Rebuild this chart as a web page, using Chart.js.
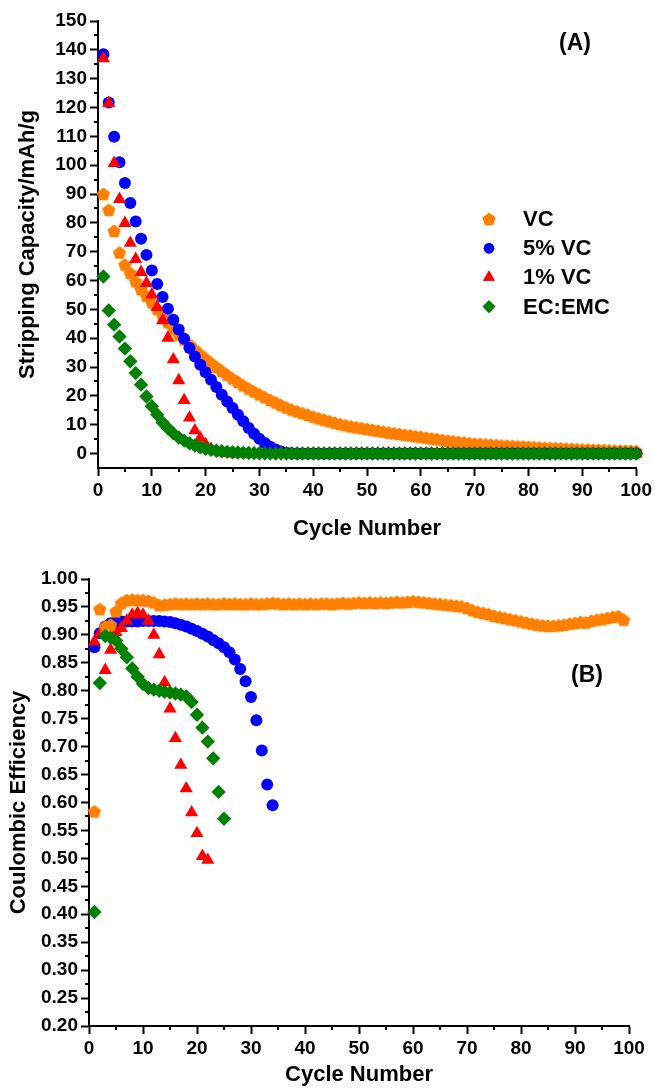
<!DOCTYPE html>
<html>
<head>
<meta charset="utf-8">
<script src="https://cdn.jsdelivr.net/npm/chart.js"></script>
<style>
  body { margin: 0; background: #fff; }
  .wrap { position: absolute; left: 0; width: 655px; }
</style>
</head>
<body>
<div class="wrap" style="top:0;height:545px"><canvas id="capChart" width="655" height="545"></canvas></div>
<div class="wrap" style="top:545px;height:543px"><canvas id="ceChart" width="655" height="543"></canvas></div>
<script>
// series names
const seriesNames = ['VC', '5% VC', '1% VC', 'EC:EMC']

// (A) stripping capacity, mAh/g, cycle 1..100
const capVC = [
  90, 84.5, 77.2, 69.7, 65.5, 62.6, 59.7, 57, 54.7, 52.4,
  50.1, 47.8, 45.5, 43.3, 41.2, 39.5, 37.8, 36.1, 34.5, 32.9,
  31.4, 30, 28.6, 27.3, 26, 24.8, 23.6, 22.5, 21.5, 20.5,
  19.5, 18.6, 17.7, 16.8, 16, 15.2, 14.6, 14, 13.4, 12.8,
  12.2, 11.7, 11.2, 10.7, 10.2, 9.8, 9.4, 9.1, 8.8, 8.5,
  8.2, 7.9, 7.6, 7.3, 7, 6.8, 6.5, 6.3, 6, 5.8,
  5.5, 5.2, 5, 4.7, 4.4, 4.2, 4, 3.8, 3.6, 3.4,
  3.3, 3.2, 3, 2.9, 2.8, 2.7, 2.6, 2.5, 2.4, 2.3,
  2.2, 2.1, 2, 1.9, 1.85, 1.8, 1.7, 1.6, 1.5, 1.45,
  1.4, 1.3, 1.25, 1.2, 1.1, 1.05, 1, 0.95, 0.9, 0.85
]
const cap5VC = [
  138.5, 121.7, 109.9, 101, 93.8, 86.9, 80.5, 74.5, 68.9, 63.5,
  58.8, 54.3, 50.2, 46.4, 43, 39.8, 36.6, 33.7, 30.8, 28.2,
  25.6, 23.1, 20.4, 18.1, 15.8, 13.5, 11.2, 8.9, 6.9, 5.1,
  3.7, 2.4, 1.4, 0.7, 0.3, 0.1, 0, 0, 0, 0,
  0, 0, 0, 0, 0, 0, 0, 0, 0, 0,
  0, 0, 0, 0, 0, 0, 0, 0, 0, 0,
  0, 0, 0, 0, 0, 0, 0, 0, 0, 0,
  0, 0, 0, 0, 0, 0, 0, 0, 0, 0,
  0, 0, 0, 0, 0, 0, 0, 0, 0, 0,
  0, 0, 0, 0, 0, 0, 0, 0, 0, 0
]
const cap1VC = [
  137, 121.5, 100.7, 88.2, 79.9, 73, 67.4, 62.9, 59.1, 55.1,
  50.8, 46.2, 40.1, 32.6, 25.4, 18.5, 12.4, 8, 5.4, 3.2,
  1.6, 0.7, 0.3, 0.1, 0, 0, 0, 0, 0, 0,
  0, 0, 0, 0, 0, 0, 0, 0, 0, 0,
  0, 0, 0, 0, 0, 0, 0, 0, 0, 0,
  0, 0, 0, 0, 0, 0, 0, 0, 0, 0,
  0, 0, 0, 0, 0, 0, 0, 0, 0, 0,
  0, 0, 0, 0, 0, 0, 0, 0, 0, 0,
  0, 0, 0, 0, 0, 0, 0, 0, 0, 0,
  0, 0, 0, 0, 0, 0, 0, 0, 0, 0
]
const capEC = [
  61.4, 49.6, 44.7, 40.6, 36.4, 32, 27.9, 23.9, 19.8, 16.4,
  13.5, 10.8, 8.8, 7, 5.6, 4.5, 3.6, 2.8, 2.2, 1.7,
  1.3, 1, 0.8, 0.6, 0.45, 0.35, 0.25, 0.2, 0.15, 0.1,
  0.05, 0, 0, 0, 0, 0, 0, 0, 0, 0,
  0, 0, 0, 0, 0, 0, 0, 0, 0, 0,
  0, 0, 0, 0, 0, 0, 0, 0, 0, 0,
  0, 0, 0, 0, 0, 0, 0, 0, 0, 0,
  0, 0, 0, 0, 0, 0, 0, 0, 0, 0,
  0, 0, 0, 0, 0, 0, 0, 0, 0, 0,
  0, 0, 0, 0, 0, 0, 0, 0, 0, 0
]

// (B) coulombic efficiency, starting at cycle 1
const ceVC = [
  0.584, 0.946, 0.915, 0.918, 0.942, 0.957, 0.962, 0.963, 0.962, 0.962,
  0.961, 0.958, 0.953, 0.954, 0.955, 0.956, 0.955, 0.956, 0.955, 0.956,
  0.955, 0.956, 0.955, 0.955, 0.956, 0.955, 0.956, 0.955, 0.955, 0.956,
  0.955, 0.955, 0.956, 0.957, 0.956, 0.955, 0.956, 0.955, 0.956, 0.955,
  0.956, 0.955, 0.956, 0.956, 0.955, 0.956, 0.957, 0.956, 0.957, 0.958,
  0.957, 0.958, 0.957, 0.958, 0.957, 0.958, 0.959, 0.958, 0.959, 0.960,
  0.959, 0.958, 0.957, 0.956, 0.955, 0.954, 0.953, 0.952, 0.951, 0.948,
  0.944, 0.941, 0.939, 0.937, 0.934, 0.932, 0.930, 0.928, 0.926, 0.924,
  0.922, 0.920, 0.918, 0.917, 0.916, 0.916, 0.917, 0.918, 0.920, 0.921,
  0.923, 0.922, 0.925, 0.927, 0.928, 0.930, 0.932, 0.933, 0.927
]
const ce5VC = [
  0.878, 0.903, 0.915, 0.921, 0.923, 0.924, 0.924, 0.924, 0.924, 0.925,
  0.925, 0.925, 0.925, 0.924, 0.923, 0.921, 0.918, 0.915, 0.911, 0.907,
  0.902, 0.897, 0.891, 0.885, 0.878, 0.869, 0.856, 0.839, 0.817, 0.789,
  0.747, 0.693, 0.632, 0.595
]
const ce1VC = [
  0.888, 0.902, 0.837, 0.873, 0.905, 0.912, 0.925, 0.936, 0.939, 0.936,
  0.925, 0.900, 0.865, 0.815, 0.768, 0.715, 0.667, 0.625, 0.582, 0.545,
  0.504, 0.497
]
const ceEC = [
  0.404, 0.814, 0.898, 0.895, 0.890, 0.875, 0.860, 0.840, 0.825, 0.812,
  0.805, 0.802, 0.800, 0.798, 0.797, 0.795, 0.793, 0.790, 0.780, 0.757,
  0.734, 0.709, 0.679, 0.619, 0.571
]

const colors = ['#ff8000', '#0000ff', '#ff0000', '#008000']

Chart.defaults.font.family = "'Liberation Sans', Arial, sans-serif"
Chart.defaults.font.weight = 'bold'
Chart.defaults.color = 'black'

// pentagon marker (not a built-in point style)
const makePentagon = (r, color) => {
  const c = document.createElement('canvas')
  c.width = 16
  c.height = 16
  const g = c.getContext('2d')
  g.fillStyle = color
  g.beginPath()
  for (let k = 0; k < 5; k++) {
    const a = -Math.PI / 2 + k * 2 * Math.PI / 5
    const px = 8 + r * Math.cos(a)
    const py = 8.6 + r * Math.sin(a)
    if (k === 0) g.moveTo(px, py)
    else g.lineTo(px, py)
  }
  g.closePath()
  g.fill()
  return c
}
const pentagon = makePentagon(7, colors[0])

const styles = [
  { pointStyle: pentagon, radius: 7 },
  { pointStyle: 'circle', radius: 6 },
  { pointStyle: 'triangle', radius: 7.6 },
  { pointStyle: 'rectRot', radius: 7.2 }
]

const toPoints = (arr) => arr.map((v, i) => ({ x: i + 1, y: v }))

const makeDataset = (idx, values, order) => ({
  label: seriesNames[idx],
  data: toPoints(values),
  showLine: false,
  pointStyle: styles[idx].pointStyle,
  pointRadius: styles[idx].radius,
  pointBackgroundColor: colors[idx],
  pointBorderColor: colors[idx],
  pointBorderWidth: 0,
  order: order,
  clip: false
})

const minorTicks = {
  id: 'minorTicks',
  afterDraw(chart, args, opts) {
    const ctx = chart.ctx
    const xs = chart.scales.x
    const ys = chart.scales.y
    ctx.save()
    ctx.strokeStyle = '#000'
    ctx.lineWidth = 2
    ctx.beginPath()
    for (let v = xs.min + opts.xStep / 2; v < xs.max; v += opts.xStep) {
      const px = Math.round(xs.getPixelForValue(v))
      ctx.moveTo(px, xs.top)
      ctx.lineTo(px, xs.top + 4)
    }
    for (let v = opts.yStart; v < ys.max; v += opts.yStep) {
      const py = Math.round(ys.getPixelForValue(v))
      ctx.moveTo(ys.right, py)
      ctx.lineTo(ys.right - 4, py)
    }
    ctx.stroke()
    ctx.restore()
  }
}

const textMarks = {
  id: 'textMarks',
  afterDraw(chart, args, opts) {
    const ctx = chart.ctx
    ctx.save()
    ctx.fillStyle = '#000'
    ctx.textBaseline = 'middle'
    ctx.font = "bold 23px 'Liberation Sans', Arial, sans-serif"
    ctx.textAlign = 'center'
    ctx.fillText(opts.tag, opts.tagX, opts.tagY)
    if (opts.legend) {
      ctx.font = "bold 22px 'Liberation Sans', Arial, sans-serif"
      ctx.textAlign = 'left'
      seriesNames.forEach((name, i) => {
        const y = opts.legendY + i * opts.legendGap
        ctx.fillStyle = colors[i]
        Chart.helpers.drawPoint(ctx, {
          pointStyle: styles[i].pointStyle,
          radius: styles[i].radius - 0.8,
          rotation: 0,
          borderWidth: 0
        }, opts.legendX, y)
        ctx.fill()
        ctx.fillStyle = '#000'
        ctx.fillText(name, opts.legendX + 34, y + 1)
      })
    }
    ctx.restore()
  }
}

const axisX = (height, titlePad) => ({
  type: 'linear',
  min: 0,
  max: 100,
  ticks: { stepSize: 10, font: { size: 19, weight: 'bold' }, padding: 3, maxRotation: 0 },
  grid: { drawOnChartArea: false, drawTicks: true, tickLength: 8, tickWidth: 2, tickColor: '#000' },
  border: { display: true, color: '#000', width: 2 },
  title: { display: true, text: 'Cycle Number', font: { size: 22, weight: 'bold' }, padding: { top: 0, bottom: titlePad } },
  afterFit: (scale) => { scale.height = height }
})

const capChart = new Chart(document.getElementById('capChart'), {
  type: 'scatter',
  data: {
    datasets: [
      makeDataset(0, capVC, 4),
      makeDataset(1, cap5VC, 3),
      makeDataset(2, cap1VC, 2),
      makeDataset(3, capEC, 1)
    ]
  },
  options: {
    responsive: false,
    animation: false,
    layout: { padding: { top: 21, right: 18, left: 0, bottom: 0 } },
    plugins: {
      legend: { display: false },
      tooltip: { enabled: false },
      minorTicks: { xStep: 10, yStart: 5, yStep: 10 },
      textMarks: { tag: '(A)', tagX: 575, tagY: 44, legend: true, legendX: 489, legendY: 219, legendGap: 29.2 }
    },
    scales: {
      x: axisX(77, 3),
      y: {
        type: 'linear',
        min: -5,
        max: 150,
        ticks: { stepSize: 10, includeBounds: false, font: { size: 19, weight: 'bold' }, padding: 3 },
        grid: { drawOnChartArea: false, drawTicks: true, tickLength: 8, tickWidth: 2, tickColor: '#000' },
        border: { display: true, color: '#000', width: 2 },
        title: { display: true, text: 'Stripping Capacity/mAh/g', font: { size: 22, weight: 'bold' }, padding: { top: 15, bottom: 0 } },
        afterFit: (scale) => { scale.width = 98 }
      }
    }
  },
  plugins: [minorTicks, textMarks]
})

const ceChart = new Chart(document.getElementById('ceChart'), {
  type: 'scatter',
  data: {
    datasets: [
      makeDataset(0, ceVC, 2),
      makeDataset(1, ce5VC, 4),
      makeDataset(2, ce1VC, 3),
      makeDataset(3, ceEC, 1)
    ]
  },
  options: {
    responsive: false,
    animation: false,
    layout: { padding: { top: 34, right: 26, left: 0, bottom: 0 } },
    plugins: {
      legend: { display: false },
      tooltip: { enabled: false },
      minorTicks: { xStep: 10, yStart: 0.225, yStep: 0.05 },
      textMarks: { tag: '(B)', tagX: 587, tagY: 131, legend: false }
    },
    scales: {
      x: axisX(62, 0),
      y: {
        type: 'linear',
        min: 0.2,
        max: 1.0,
        ticks: { stepSize: 0.05, font: { size: 19, weight: 'bold' }, padding: 3, callback: (v) => v.toFixed(2) },
        grid: { drawOnChartArea: false, drawTicks: true, tickLength: 8, tickWidth: 2, tickColor: '#000' },
        border: { display: true, color: '#000', width: 2 },
        title: { display: true, text: 'Coulombic Efficiency', font: { size: 22, weight: 'bold' }, padding: { top: 6, bottom: 0 } },
        afterFit: (scale) => { scale.width = 89 }
      }
    }
  },
  plugins: [minorTicks, textMarks]
})
</script>
</body>
</html>
